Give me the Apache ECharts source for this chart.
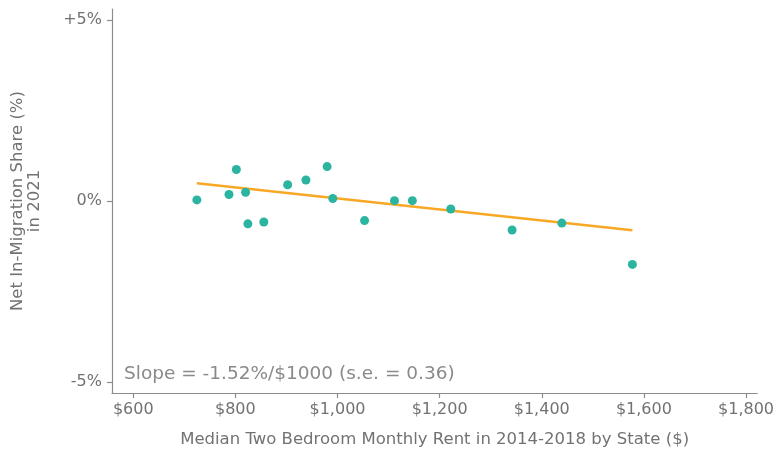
<!DOCTYPE html>
<html>
<head>
<meta charset="utf-8">
<script src="https://cdn.jsdelivr.net/npm/echarts@6/dist/echarts.min.js"></script>
<style>
html,body{margin:0;padding:0;background:#fff;}
#chart{width:777px;height:453px;}
</style>
</head>
<body>
<div id="chart"></div>
<script>
// Data
const rent = [724.6, 801.9, 787.5, 820.0, 824.5, 855.7, 902.4, 938.2, 979.7, 990.8, 1053.0, 1111.6, 1146.6, 1221.8, 1341.9, 1439.3, 1577.5];
const migration = [0.03, 0.87, 0.18, 0.24, -0.63, -0.58, 0.45, 0.58, 0.95, 0.07, -0.54, 0.01, 0.01, -0.22, -0.80, -0.61, -1.75];
const fitX = [724.6, 1577.5];
const fitY = [0.49, -0.807];
const xTicks = [600, 800, 1000, 1200, 1400, 1600, 1800];
const yTicks = [-5, 0, 5];
const yTickLabels = ['-5%', '0%', '+5%'];
const slopeText = 'Slope = -1.52%/$1000 (s.e. = 0.36)';

const textColor = '#727272';
const axisColor = '#8c8c8c';
const font = 'DejaVu Sans, sans-serif';

const chart = echarts.init(document.getElementById('chart'));
chart.setOption({
  animation: false,
  backgroundColor: '#ffffff',
  grid: {left: 112, right: 18, top: 9, bottom: 58, containLabel: false},
  xAxis: {
    type: 'value', min: 558.4, max: 1822,
    name: 'Median Two Bedroom Monthly Rent in 2014-2018 by State ($)',
    nameLocation: 'middle', nameGap: 38,
    nameTextStyle: {color: textColor, fontSize: 16.5, fontFamily: font},
    splitLine: {show: false},
    axisLine: {show: true, onZero: false, lineStyle: {color: axisColor, width: 1.2}},
    axisTick: {show: true, length: 5, customValues: xTicks, lineStyle: {color: axisColor, width: 1.2}},
    axisLabel: {
      customValues: xTicks, color: textColor, fontSize: 16, fontFamily: font, margin: 9,
      formatter: v => '$' + Math.round(v).toLocaleString('en-US')
    }
  },
  yAxis: {
    type: 'value', min: -5.3, max: 5.3,
    name: 'Net In-Migration Share (%)\nin 2021',
    nameLocation: 'middle', nameGap: 69, nameRotate: 90,
    nameTextStyle: {color: textColor, fontSize: 16.5, fontFamily: font, lineHeight: 17, align: 'center'},
    splitLine: {show: false},
    axisLine: {show: true, onZero: false, lineStyle: {color: axisColor, width: 1.2}},
    axisTick: {show: true, length: 5, customValues: yTicks, lineStyle: {color: axisColor, width: 1.2}},
    axisLabel: {
      customValues: yTicks, color: textColor, fontSize: 16, fontFamily: font, margin: 10,
      formatter: v => yTickLabels[yTicks.indexOf(Math.round(v))]
    }
  },
  graphic: [{
    type: 'text', left: 124, top: 365,
    style: {text: slopeText, fill: '#8a8a8a', fontSize: 18.5, fontFamily: font}
  }],
  series: [
    {
      type: 'line', data: fitX.map((x, i) => [x, fitY[i]]),
      symbol: 'none', lineStyle: {color: '#f9a825', width: 2.5}, z: 2
    },
    {
      type: 'scatter', data: rent.map((x, i) => [x, migration[i]]),
      symbolSize: 9, itemStyle: {color: '#2bb5a0', opacity: 1}, z: 3
    }
  ]
});
</script>
</body>
</html>
